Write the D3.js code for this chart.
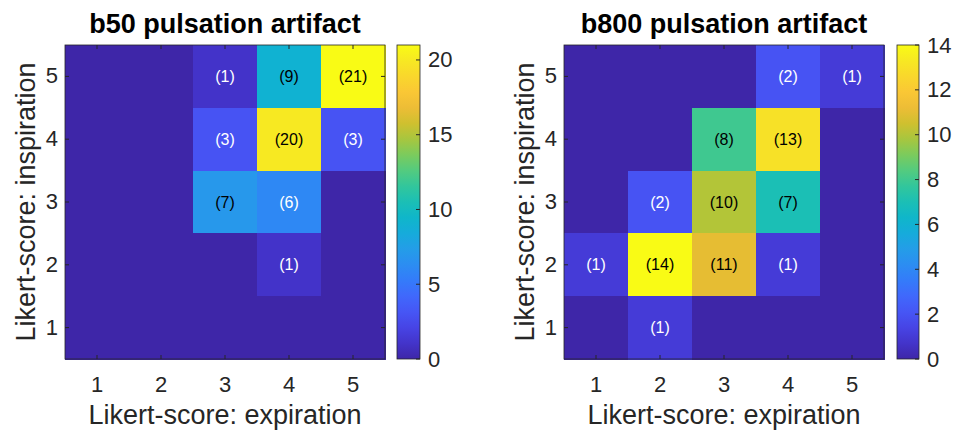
<!DOCTYPE html>
<html>
<head>
<meta charset="utf-8">
<script src="https://cdn.jsdelivr.net/npm/d3@7"></script>
<style>
  body { margin: 0; background: #fff; }
  svg { display: block; font-family: "Liberation Sans", Arial, Helvetica, sans-serif; }
</style>
</head>
<body>
<svg width="961" height="432"></svg>
<script>
const svg = d3.select("svg");

// likert scores on both axes
const scores = [1, 2, 3, 4, 5];

// counts, rows = inspiration 5..1 (top to bottom), cols = expiration 1..5
const b50Counts = [
  [0, 0, 1, 9, 21],
  [0, 0, 3, 20, 3],
  [0, 0, 7, 6, 0],
  [0, 0, 0, 1, 0],
  [0, 0, 0, 0, 0]
];
const b800Counts = [
  [0, 0, 0, 2, 1],
  [0, 0, 8, 13, 0],
  [0, 2, 10, 7, 0],
  [1, 14, 11, 1, 0],
  [0, 1, 0, 0, 0]
];

const b50Ticks = [0, 5, 10, 15, 20];
const b800Ticks = [0, 2, 4, 6, 8, 10, 12, 14];

// parula (newer matlab version), sampled every 4th of 64 entries
const parula = [
  [0.2422, 0.1504, 0.6603], [0.2706, 0.2147, 0.8364], [0.2813, 0.3006, 0.9414],
  [0.2699, 0.3892, 0.9906], [0.1963, 0.4847, 0.9892], [0.1687, 0.5703, 0.9359],
  [0.1248, 0.6459, 0.8883], [0.0297, 0.7082, 0.8163], [0.0964, 0.7500, 0.7120],
  [0.2161, 0.7843, 0.5923], [0.3909, 0.8029, 0.4354], [0.6174, 0.7876, 0.2612],
  [0.8203, 0.7498, 0.1535], [0.9728, 0.7298, 0.2394], [0.9892, 0.8136, 0.1885],
  [0.9610, 0.8890, 0.1537], [0.9769, 0.9839, 0.0805]
].map(c => d3.rgb(c[0] * 255, c[1] * 255, c[2] * 255).formatHex());
const parulaInterp = d3.interpolateRgbBasis(parula);

const axisColor = "#262626";

function drawPanel(opts) {
  const {title, counts, ticks, left, right, cbLeft, cbRight} = opts;
  const top = 45, bottom = 359;
  const maxVal = d3.max(counts.flat());

  const x = d3.scaleBand().domain(scores).range([left, right]);
  const y = d3.scaleBand().domain(scores.slice().reverse()).range([top, bottom]);
  const color = d3.scaleSequential(parulaInterp).domain([0, maxVal]);

  const g = svg.append("g");

  const cells = [];
  counts.forEach((row, i) => {
    row.forEach((v, j) => {
      cells.push({ins: 5 - i, exp: j + 1, v});
    });
  });

  g.selectAll("rect.cell")
    .data(cells)
    .join("rect")
      .attr("class", "cell")
      .attr("x", d => x(d.exp))
      .attr("y", d => y(d.ins))
      .attr("width", x.bandwidth() + 1)
      .attr("height", y.bandwidth() + 1)
      .attr("shape-rendering", "crispEdges")
      .attr("fill", d => color(d.v));

  g.selectAll("text.count")
    .data(cells.filter(d => d.v > 0))
    .join("text")
      .attr("class", "count")
      .attr("x", d => x(d.exp) + x.bandwidth() / 2)
      .attr("y", d => y(d.ins) + y.bandwidth() / 2)
      .attr("dy", "0.35em")
      .attr("text-anchor", "middle")
      .attr("font-size", 16)
      .attr("fill", d => d.v / maxVal > 0.3 ? "#000" : "#fff")
      .text(d => "(" + d.v + ")");

  // axes box
  g.append("rect")
    .attr("x", left).attr("y", top)
    .attr("width", right - left).attr("height", bottom - top)
    .attr("fill", "none").attr("stroke", axisColor).attr("stroke-width", 0.8);

  const tickLen = 4;
  const xAxis = d3.axisBottom(x).tickSize(0).tickPadding(17);
  const xg = g.append("g").attr("transform", `translate(0,${bottom})`).call(xAxis);
  xg.select(".domain").remove();
  xg.selectAll("text").attr("font-size", 22).attr("fill", axisColor).attr("font-family", null);

  const yAxis = d3.axisLeft(y).tickSize(0).tickPadding(7);
  const yg = g.append("g").attr("transform", `translate(${left},0)`).call(yAxis);
  yg.select(".domain").remove();
  yg.selectAll("text").attr("font-size", 22).attr("fill", axisColor).attr("font-family", null);

  // inward tick marks on all four sides
  scores.forEach(s => {
    const cx = x(s) + x.bandwidth() / 2;
    const cy = y(s) + y.bandwidth() / 2;
    g.append("line").attr("x1", cx).attr("x2", cx).attr("y1", bottom).attr("y2", bottom - tickLen).attr("stroke", axisColor);
    g.append("line").attr("x1", cx).attr("x2", cx).attr("y1", top).attr("y2", top + tickLen).attr("stroke", axisColor);
    g.append("line").attr("x1", left).attr("x2", left + tickLen).attr("y1", cy).attr("y2", cy).attr("stroke", axisColor);
    g.append("line").attr("x1", right).attr("x2", right - tickLen).attr("y1", cy).attr("y2", cy).attr("stroke", axisColor);
  });

  g.append("text")
    .attr("x", (left + right) / 2).attr("y", 33)
    .attr("text-anchor", "middle")
    .attr("font-size", 27).attr("font-weight", "bold")
    .text(title);

  g.append("text")
    .attr("x", (left + right) / 2).attr("y", 424)
    .attr("text-anchor", "middle")
    .attr("font-size", 27).attr("fill", axisColor)
    .text("Likert-score: expiration");

  g.append("text")
    .attr("transform", `translate(${left - 30},${(top + bottom) / 2}) rotate(-90)`)
    .attr("text-anchor", "middle")
    .attr("font-size", 27).attr("fill", axisColor)
    .text("Likert-score: inspiration");

  // colorbar
  const cb = d3.scaleLinear().domain([0, maxVal]).range([bottom, top]);
  const gradId = "grad" + left;
  const grad = svg.append("defs").append("linearGradient")
    .attr("id", gradId).attr("x1", 0).attr("x2", 0).attr("y1", 1).attr("y2", 0);
  d3.range(0, 1.0001, 0.05).forEach(t => {
    grad.append("stop").attr("offset", t).attr("stop-color", parulaInterp(t));
  });
  g.append("rect")
    .attr("x", cbLeft).attr("y", top)
    .attr("width", cbRight - cbLeft).attr("height", bottom - top)
    .attr("fill", `url(#${gradId})`)
    .attr("stroke", axisColor).attr("stroke-width", 0.8);

  const cbAxis = d3.axisRight(cb).tickValues(ticks).tickSize(0).tickPadding(8);
  const cg = g.append("g").attr("transform", `translate(${cbRight},0)`).call(cbAxis);
  cg.select(".domain").remove();
  cg.selectAll("text").attr("font-size", 22).attr("fill", axisColor).attr("font-family", null);
  ticks.forEach(t => {
    g.append("line").attr("x1", cbRight).attr("x2", cbRight - 4)
      .attr("y1", cb(t)).attr("y2", cb(t)).attr("stroke", axisColor);
  });
}

drawPanel({title: "b50 pulsation artifact", counts: b50Counts, ticks: b50Ticks,
  left: 65, right: 385, cbLeft: 397, cbRight: 420});
drawPanel({title: "b800 pulsation artifact", counts: b800Counts, ticks: b800Ticks,
  left: 564, right: 884, cbLeft: 897, cbRight: 919});
</script>
</body>
</html>
